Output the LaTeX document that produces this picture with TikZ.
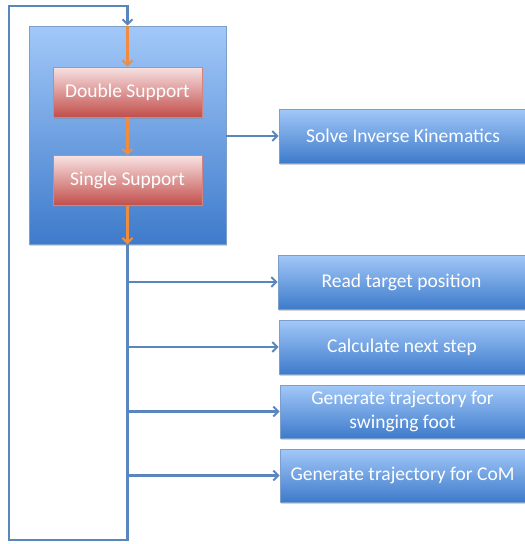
\documentclass[tikz,border=0pt]{standalone}
\usepackage{fontspec}
\setmainfont{Carlito}
\usepackage{tikz}
\usetikzlibrary{arrows.meta,shadows}
\definecolor{lineblue}{HTML}{5A86BE}
\definecolor{boxtop}{HTML}{A2C8F8}
\definecolor{boxbot}{HTML}{3E7BCB}
\definecolor{redtop}{HTML}{F7E2E2}
\definecolor{redbot}{HTML}{C24E4B}
\definecolor{arrorange}{HTML}{F08C40}

\begin{document}
\begin{tikzpicture}[x=1pt,y=-1pt,
	bluebox/.style={rectangle, draw=lineblue!80, line width=0.6pt, top color=boxtop, bottom color=boxbot,
		text=white, align=center, inner sep=0pt, font=\fontsize{19.5}{24}\selectfont,
		drop shadow={shadow xshift=1pt, shadow yshift=-1.5pt, opacity=0.35}},
	redbox/.style={rectangle, draw=redbot!70, line width=0.6pt, top color=redtop, bottom color=redbot,
		text=white, inner sep=0pt, minimum width=149pt, minimum height=50pt, font=\fontsize{19.5}{24}\selectfont,
		drop shadow={shadow xshift=1pt, shadow yshift=-1.5pt, opacity=0.35}},
	link/.style={draw=lineblue, line width=2.8pt, line join=miter, -{Straight Barb[length=5pt,width=10pt,line width=2pt]}},
	flow/.style={draw=arrorange, line width=2.4pt, -{Straight Barb[length=5pt,width=10pt,line width=2pt]}}]
	\useasboundingbox (0,0) rectangle (525,544);
	% state machine
	\path (127.5,135) node(walk)[bluebox, minimum width=197pt, minimum height=218pt]{}
	(127.5,92) node(ds)[redbox]{Double Support}
	(127.5,180.5) node(ss)[redbox]{Single Support};
	% tasks
	\path (403,136) node(ik)[bluebox, minimum width=248pt, minimum height=54pt]{Solve Inverse Kinematics}
	(401.5,282) node(target)[bluebox, minimum width=247pt, minimum height=54pt]{Read target position}
	(402,347) node(nextstep)[bluebox, minimum width=246pt, minimum height=54pt]{Calculate next step}
	(402.5,411.5) node(swing)[bluebox, minimum width=245pt, minimum height=53pt]{Generate trajectory for\\swinging foot}
	(402.5,475.5) node(com)[bluebox, minimum width=245pt, minimum height=53pt]{Generate trajectory for CoM};
	\coordinate (topleft) at (9,6);
	\coordinate (botleft) at (9,540);
	\coordinate (botright) at (127.5,540);
	% loop back
	\draw [link] (walk.south) -- (botright) -- (botleft) -- (topleft) -| (walk.north);
	\draw [flow] (walk.north) -- (ds.north);
	\draw [flow] (ds) -- (ss);
	\draw [flow] (ss) -- (walk.south);
	\draw [link] (ik.west -| walk.east) -- (ik.west);
	\draw [link] (target.west -| walk.south) -- (target.west);
	\draw [link] (nextstep.west -| walk.south) -- (nextstep.west);
	\draw [link] (swing.west -| walk.south) -- (swing.west);
	\draw [link] (com.west -| walk.south) -- (com.west);
\end{tikzpicture}
\end{document}
